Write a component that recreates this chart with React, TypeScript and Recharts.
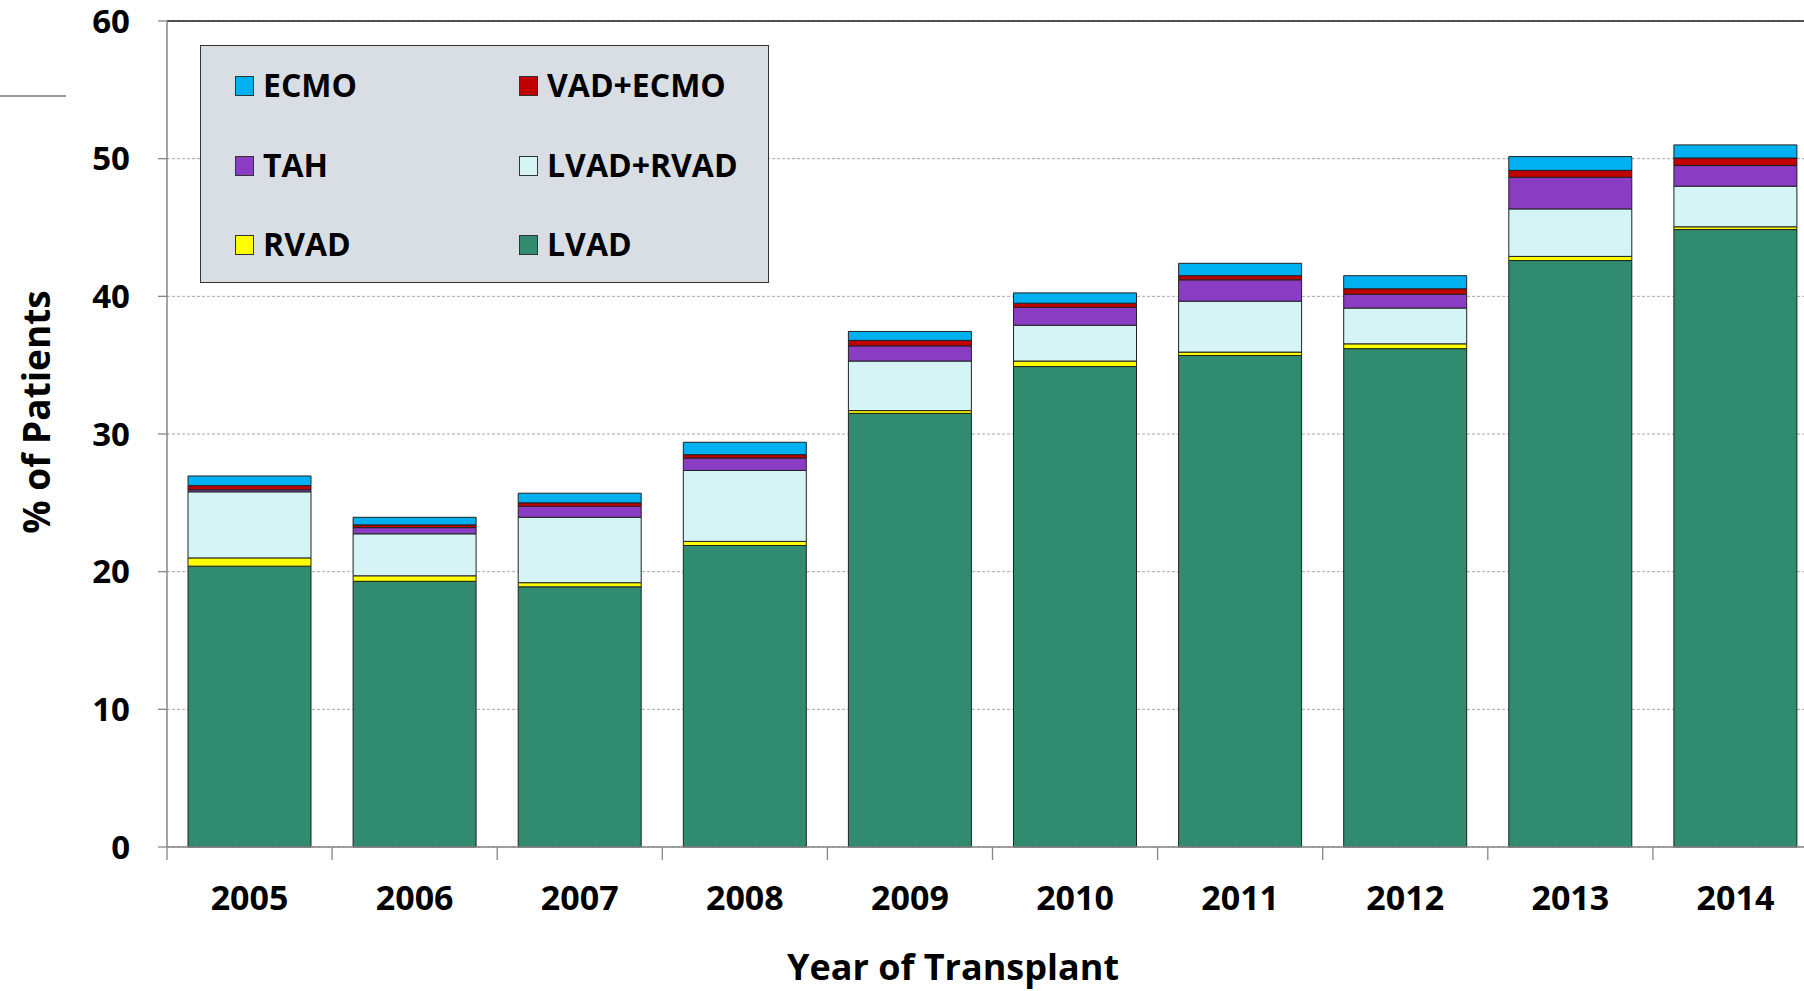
import { Bar, BarChart, CartesianGrid, Label, Legend, ReferenceLine, XAxis, YAxis } from 'recharts';

// Year of transplant, stacked % of patients by support type
const years = ['2005', '2006', '2007', '2008', '2009', '2010', '2011', '2012', '2013', '2014'];
const lvad = [20.4, 19.3, 18.9, 21.9, 31.5, 34.9, 35.7, 36.2, 42.6, 44.85];
const rvad = [0.6, 0.4, 0.3, 0.3, 0.2, 0.4, 0.25, 0.35, 0.3, 0.2];
const lvadRvad = [4.8, 3.05, 4.75, 5.15, 3.6, 2.6, 3.7, 2.6, 3.45, 2.95];
const tah = [0.15, 0.45, 0.8, 0.9, 1.1, 1.3, 1.55, 1.0, 2.3, 1.5];
const vadEcmo = [0.3, 0.2, 0.25, 0.25, 0.4, 0.3, 0.3, 0.4, 0.5, 0.55];
const ecmo = [0.7, 0.55, 0.7, 0.9, 0.65, 0.75, 0.9, 0.95, 1.0, 0.95];
const yTicks = [0, 10, 20, 30, 40, 50, 60];

// bottom -> top
const series = [
  { key: 'LVAD', values: lvad, color: '#318B6F' },
  { key: 'RVAD', values: rvad, color: '#FFFF00' },
  { key: 'LVAD+RVAD', values: lvadRvad, color: '#D4F4F5' },
  { key: 'TAH', values: tah, color: '#8A3DC3' },
  { key: 'VAD+ECMO', values: vadEcmo, color: '#C00000' },
  { key: 'ECMO', values: ecmo, color: '#00B0F0' },
];
const legendOrder = ['ECMO', 'VAD+ECMO', 'TAH', 'LVAD+RVAD', 'RVAD', 'LVAD'];

const data = years.map((year, i) => {
  const row: Record<string, string | number> = { year };
  series.forEach((s) => {
    row[s.key] = s.values[i];
  });
  return row;
});

const FONT = "'Open Sans', 'Noto Sans', sans-serif";
const AXIS = '#868686';
const BAND = 165.1;

function XTick(props: any) {
  const { x, y, payload } = props;
  const left = x - BAND / 2;
  return (
    <g>
      <line x1={left} x2={left} y1={y} y2={y + 13} stroke={AXIS} strokeWidth={1.3} />
      <text
        x={x}
        y={y + 50}
        textAnchor="middle"
        dominantBaseline="central"
        fontFamily={FONT}
        fontWeight={700}
        fontSize={34}
        fill="#000"
      >
        {payload.value}
      </text>
    </g>
  );
}

function LegendBox() {
  return (
    <div
      style={{
        position: 'relative',
        width: 569,
        height: 238,
        boxSizing: 'border-box',
        background: '#D9DEE4',
        border: '1.5px solid #333',
        fontFamily: FONT,
        fontWeight: 700,
        fontSize: 32,
        color: '#000',
      }}
    >
      {legendOrder.map((key, i) => {
        const s = series.find((d) => d.key === key)!;
        const col = i % 2;
        const row = Math.floor(i / 2);
        const cy = 39 + row * 79.5;
        const sx = col === 0 ? 34 : 318;
        return (
          <div key={key}>
            <div
              style={{
                position: 'absolute',
                left: sx,
                top: cy - 9,
                width: 19,
                height: 20,
                boxSizing: 'border-box',
                background: s.color,
                border: '1px solid #333',
              }}
            />
            <div
              style={{
                position: 'absolute',
                left: sx + 28,
                top: cy - 22,
                lineHeight: '44px',
                whiteSpace: 'nowrap',
              }}
            >
              {key}
            </div>
          </div>
        );
      })}
    </div>
  );
}

export default function App() {
  return (
    <div
      style={{
        position: 'fixed',
        left: 0,
        top: 0,
        width: '100vw',
        height: '100vh',
        overflow: 'hidden',
        background: '#fff',
      }}
    >
      {/* stray rule in the top-left corner of the original slide */}
      <div style={{ position: 'absolute', left: 0, top: 95, width: 66, height: 1.5, background: '#999' }} />
      <BarChart
        width={1818}
        height={991}
        data={data}
        margin={{ top: 21, right: 0, bottom: 0, left: 0 }}
      >
        <CartesianGrid vertical={false} stroke="#A6A6A6" strokeDasharray="3 2" />
        <XAxis
          dataKey="year"
          height={144}
          axisLine={{ stroke: AXIS, strokeWidth: 1.5 }}
          tickLine={false}
          tickSize={0}
          tickMargin={0}
          interval={0}
          tick={<XTick />}
        >
          <Label
            content={() => (
              <text
                x={953}
                y={966}
                textAnchor="middle"
                dominantBaseline="central"
                fontFamily={FONT}
                fontWeight={700}
                fontSize={36}
                fill="#000"
              >
                Year of Transplant
              </text>
            )}
          />
        </XAxis>
        <YAxis
          width={167}
          domain={[0, 60]}
          ticks={yTicks}
          interval={0}
          axisLine={{ stroke: AXIS, strokeWidth: 1.5 }}
          tickLine={{ stroke: AXIS, strokeWidth: 1.3 }}
          tickSize={9}
          tickMargin={28}
          tick={{ fill: '#000', fontSize: 33, fontWeight: 700, fontFamily: FONT }}
        >
          <Label
            content={() => (
              <text
                x={35}
                y={412}
                transform="rotate(-90 35 412)"
                textAnchor="middle"
                dominantBaseline="central"
                fontFamily={FONT}
                fontWeight={700}
                fontSize={37}
                fill="#000"
              >
                % of Patients
              </text>
            )}
          />
        </YAxis>
        <ReferenceLine y={60} stroke="#222" strokeWidth={1.6} />
        <Legend
          layout="horizontal"
          verticalAlign="middle"
          align="center"
          content={() => <LegendBox />}
          wrapperStyle={{ position: 'absolute', left: 200, top: 45, width: 569, height: 238 }}
        />
        {series.map((s) => (
          <Bar
            key={s.key}
            dataKey={s.key}
            stackId="a"
            fill={s.color}
            stroke="#222"
            strokeWidth={1}
            barSize={123}
            isAnimationActive={false}
          />
        ))}
      </BarChart>
    </div>
  );
}
